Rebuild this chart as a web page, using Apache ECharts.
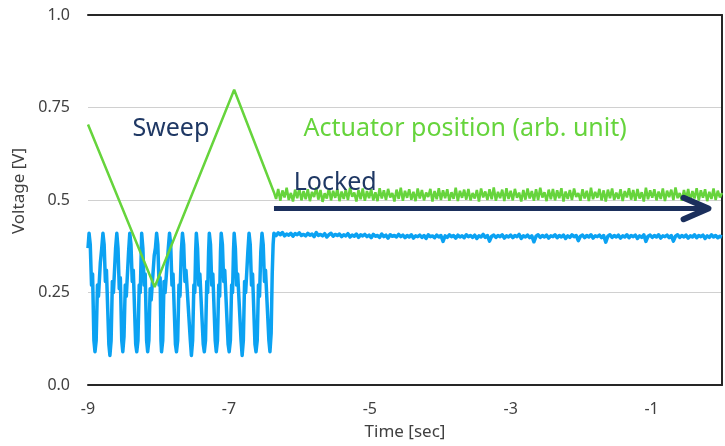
<!DOCTYPE html>
<html>
<head>
<meta charset="utf-8">
<script src="https://cdn.jsdelivr.net/npm/echarts@6/dist/echarts.min.js"></script>
<style>
  html, body { margin: 0; padding: 0; background: #fff; }
  #main { width: 725px; height: 446px; }
</style>
</head>
<body>
<div id="main"></div>
<script>
// x tick labels shown on the time axis
const xTickLabels = ["-9", "-7", "-5", "-3", "-1"];
// y tick labels, one per 0.25 V
const yTickLabels = ["0.0", "0.25", "0.5", "0.75", "1.0"];

// actuator sweep (triangle) vertices [time, V]
const greenSweep = [
  [-9.0, 0.704], [-8.054, 0.265], [-6.925, 0.798], [-6.361, 0.521]
];

// PD signal while sweeping [time, V]
const blueSweep = [
  [-9.000, 0.37], [-8.985, 0.41], [-8.968, 0.38], [-8.950, 0.27], [-8.935, 0.30], [-8.916, 0.12], [-8.901, 0.09],
  [-8.884, 0.12], [-8.866, 0.27], [-8.851, 0.24], [-8.825, 0.33], [-8.805, 0.37], [-8.788, 0.41],
  [-8.771, 0.38], [-8.753, 0.28], [-8.738, 0.31], [-8.704, 0.11], [-8.689, 0.08],
  [-8.672, 0.12], [-8.654, 0.28], [-8.639, 0.25], [-8.608, 0.37], [-8.591, 0.41],
  [-8.574, 0.37], [-8.556, 0.26], [-8.541, 0.29], [-8.521, 0.12], [-8.506, 0.09],
  [-8.489, 0.13], [-8.471, 0.27], [-8.456, 0.24], [-8.424, 0.36], [-8.407, 0.41],
  [-8.390, 0.38], [-8.372, 0.28], [-8.357, 0.31], [-8.323, 0.11], [-8.308, 0.09],
  [-8.291, 0.12], [-8.273, 0.27], [-8.258, 0.25], [-8.238, 0.41],
  [-8.221, 0.37], [-8.203, 0.27], [-8.188, 0.30], [-8.168, 0.12], [-8.153, 0.09],
  [-8.136, 0.12], [-8.118, 0.26], [-8.103, 0.23], [-8.060, 0.35], [-8.043, 0.37], [-8.026, 0.41],
  [-8.009, 0.38], [-7.991, 0.27], [-7.976, 0.29], [-7.964, 0.12], [-7.956, 0.09],
  [-7.939, 0.12], [-7.921, 0.28], [-7.906, 0.25], [-7.860, 0.37], [-7.843, 0.41],
  [-7.826, 0.38], [-7.808, 0.27], [-7.793, 0.30], [-7.759, 0.11], [-7.744, 0.09],
  [-7.727, 0.12], [-7.709, 0.27], [-7.694, 0.24], [-7.676, 0.36], [-7.659, 0.41],
  [-7.642, 0.38], [-7.624, 0.28], [-7.609, 0.31], [-7.547, 0.12], [-7.532, 0.08],
  [-7.515, 0.12], [-7.497, 0.27], [-7.484, 0.25], [-7.472, 0.36], [-7.462, 0.41],
  [-7.445, 0.37], [-7.427, 0.27], [-7.412, 0.30], [-7.364, 0.11], [-7.349, 0.09],
  [-7.332, 0.12], [-7.314, 0.28], [-7.301, 0.25], [-7.288, 0.36], [-7.278, 0.41],
  [-7.261, 0.38], [-7.243, 0.27], [-7.228, 0.30], [-7.194, 0.12], [-7.179, 0.09],
  [-7.162, 0.12], [-7.144, 0.27], [-7.131, 0.24], [-7.119, 0.36], [-7.109, 0.41],
  [-7.092, 0.38], [-7.074, 0.28], [-7.059, 0.31], [-7.011, 0.11], [-6.996, 0.09],
  [-6.979, 0.12], [-6.961, 0.27], [-6.948, 0.25], [-6.935, 0.36], [-6.925, 0.41],
  [-6.908, 0.37], [-6.890, 0.27], [-6.875, 0.30], [-6.827, 0.12], [-6.812, 0.08],
  [-6.795, 0.12], [-6.777, 0.28], [-6.762, 0.25], [-6.731, 0.36], [-6.714, 0.41],
  [-6.697, 0.38], [-6.679, 0.27], [-6.664, 0.30], [-6.630, 0.11], [-6.615, 0.09],
  [-6.598, 0.12], [-6.580, 0.27], [-6.565, 0.24], [-6.547, 0.36], [-6.530, 0.41],
  [-6.513, 0.38], [-6.495, 0.28], [-6.480, 0.31], [-6.432, 0.12], [-6.417, 0.09],
  [-6.400, 0.14], [-6.385, 0.30], [-6.372, 0.38], [-6.361, 0.41]
];

// locked part, sampled every lockStep seconds from lockStart
const lockStart = -6.36;
const lockStep = 0.03;
const greenLocked = [
  0.521,0.503,0.530,0.498,0.526,0.507,0.533,0.500,0.519,0.496,0.528,0.505,0.531,0.499,0.524,
  0.502,0.529,0.497,0.522,0.508,0.534,0.501,0.527,0.495,0.518,0.504,0.532,0.499,0.525,0.506,
  0.530,0.497,0.523,0.503,0.528,0.500,0.533,0.509,0.520,0.496,0.527,0.502,0.531,0.498,0.524,
  0.505,0.529,0.499,0.521,0.497,0.532,0.504,0.526,0.500,0.530,0.507,0.519,0.496,0.528,0.503,
  0.533,0.498,0.525,0.506,0.529,0.501,0.522,0.497,0.531,0.504,0.527,0.499,0.520,0.508,0.530,
  0.496,0.524,0.502,0.532,0.500,0.526,0.505,0.529,0.498,0.521,0.503,0.533,0.497,0.525,0.506,
  0.528,0.501,0.530,0.499,0.519,0.504,0.527,0.496,0.531,0.507,0.523,0.500,0.529,0.502,0.534,
  0.498,0.522,0.505,0.528,0.497,0.532,0.503,0.525,0.499,0.530,0.506,0.520,0.496,0.527,0.501,
  0.531,0.504,0.524,0.498,0.529,0.500,0.533,0.507,0.521,0.497,0.528,0.502,0.530,0.499,0.526,
  0.505,0.532,0.496,0.523,0.503,0.527,0.500,0.531,0.508,0.519,0.498,0.529,0.504,0.525,0.497,
  0.533,0.502,0.522,0.506,0.530,0.499,0.526,0.496,0.528,0.505,0.531,0.500,0.520,0.503,0.529,
  0.497,0.524,0.507,0.532,0.501,0.527,0.498,0.530,0.504,0.521,0.496,0.533,0.502,0.526,0.506,
  0.529,0.499,0.523,0.503,0.531,0.497,0.525,0.508,0.528,0.500,0.534,0.505,0.519,0.498,0.527,
  0.502,0.530,0.496,0.524,0.504,0.532,0.499,0.526,0.506,0.529,0.497,0.522,0.503,0.531,0.500,
  0.525,0.507,0.519
];
const blueLocked = [
  0.409,0.404,0.411,0.406,0.412,0.403,0.408,0.405,0.410,0.402,0.409,0.406,0.411,0.404,0.407,
  0.403,0.410,0.405,0.408,0.401,0.412,0.404,0.407,0.403,0.409,0.400,0.406,0.410,0.402,0.407,
  0.404,0.408,0.401,0.406,0.403,0.409,0.400,0.405,0.402,0.408,0.399,0.406,0.403,0.407,0.401,
  0.405,0.398,0.407,0.402,0.404,0.399,0.408,0.401,0.405,0.397,0.406,0.402,0.404,0.400,0.407,
  0.401,0.405,0.398,0.404,0.400,0.406,0.397,0.403,0.401,0.405,0.399,0.404,0.396,0.406,0.401,
  0.403,0.398,0.405,0.400,0.404,0.388,0.403,0.399,0.406,0.401,0.404,0.397,0.405,0.400,0.403,
  0.398,0.406,0.401,0.404,0.399,0.405,0.396,0.403,0.400,0.407,0.399,0.404,0.389,0.402,0.405,
  0.399,0.404,0.401,0.406,0.397,0.403,0.400,0.405,0.398,0.404,0.401,0.407,0.396,0.403,0.400,
  0.405,0.398,0.403,0.387,0.402,0.406,0.399,0.404,0.400,0.405,0.397,0.403,0.401,0.406,0.398,
  0.404,0.400,0.405,0.396,0.403,0.399,0.406,0.401,0.404,0.390,0.402,0.405,0.398,0.404,0.400,
  0.406,0.397,0.403,0.401,0.405,0.398,0.404,0.386,0.402,0.406,0.399,0.404,0.400,0.405,0.397,
  0.403,0.400,0.406,0.398,0.404,0.401,0.405,0.396,0.403,0.399,0.406,0.388,0.402,0.405,0.399,
  0.404,0.400,0.406,0.397,0.403,0.401,0.405,0.398,0.404,0.389,0.402,0.406,0.399,0.404,0.400,
  0.405,0.397,0.403,0.400,0.406,0.398,0.404,0.401,0.405,0.396,0.403,0.399,0.406,0.400,0.404,
  0.398,0.402,0.400
];

// "Locked" arrow, in data units
const arrowShaft = [[-6.36, 0.477], [-0.24, 0.477]];
const arrowHead = [[-0.545, 0.506], [-0.193, 0.477], [-0.545, 0.448]];

// annotation texts and their anchor (left, middle) in data units
const notes = [
  { text: "Sweep", at: [-8.37, 0.691], color: "#1f3864" },
  { text: "Actuator position (arb. unit)", at: [-5.94, 0.691], color: "#66d43c" },
  { text: "Locked", at: [-6.08, 0.545], color: "#1f3864" }
];

const fontFam = "'Noto Sans', sans-serif";
const lockedPairs = (arr) => arr.map((v, i) => [lockStart + i * lockStep, v]);

var myChart = echarts.init(document.getElementById("main"));
var option = {
  animation: false,
  grid: { left: 88, right: 0, top: 15, bottom: 59 },
  xAxis: [
    {
      type: "value",
      min: -9,
      max: 0,
      interval: 2,
      name: "Time [sec]",
      nameLocation: "middle",
      nameGap: 39,
      nameTextStyle: { fontFamily: fontFam, fontSize: 17, color: "#404040" },
      axisLine: { lineStyle: { color: "#262626", width: 2 } },
      axisTick: { show: false },
      splitLine: { show: false },
      axisLabel: {
        margin: 16,
        fontFamily: fontFam,
        fontSize: 16,
        color: "#404040",
        formatter: (v) => (xTickLabels.indexOf(String(v)) >= 0 ? String(v) : ""),
      },
    },
    {
      // top border of the plot
      type: "value",
      position: "top",
      min: -9,
      max: 0,
      axisLine: { show: true, onZero: false, lineStyle: { color: "#262626", width: 2 } },
      axisTick: { show: false },
      axisLabel: { show: false },
      splitLine: { show: false },
    },
  ],
  yAxis: {
    type: "value",
    min: 0,
    max: 1,
    interval: 0.25,
    name: "Voltage [V]",
    nameLocation: "middle",
    nameGap: 60,
    nameTextStyle: { fontFamily: fontFam, fontSize: 17, color: "#404040", padding: [0, 0, 0, 18] },
    axisLine: { show: true, lineStyle: { color: "#262626", width: 2 } },
    axisTick: { show: false },
    splitLine: { lineStyle: { color: "#d0d0d0", width: 1 } },
    axisLabel: {
      margin: 18,
      fontFamily: fontFam,
      fontSize: 16,
      color: "#404040",
      formatter: (v) => yTickLabels[Math.round(v / 0.25)],
    },
  },
  series: [
    {
      name: "PD",
      type: "line",
      data: blueSweep.concat(lockedPairs(blueLocked)),
      showSymbol: false,
      lineStyle: { color: "#0ba2f2", width: 3.5, join: "round" },
      z: 2,
    },
    {
      name: "Actuator",
      type: "line",
      data: greenSweep.concat(lockedPairs(greenLocked)),
      showSymbol: false,
      lineStyle: { color: "#66d43c", width: 2.5 },
      z: 3,
    },
    {
      type: "line",
      data: arrowShaft,
      showSymbol: false,
      lineStyle: { color: "#1b2f5c", width: 5 },
      z: 4,
    },
    {
      type: "line",
      data: arrowHead,
      showSymbol: false,
      lineStyle: { color: "#1b2f5c", width: 6, cap: "round", join: "round" },
      z: 4,
    },
  ],
};
myChart.setOption(option);

myChart.setOption({
  graphic: notes.map((n) => {
    const p = myChart.convertToPixel({ gridIndex: 0 }, n.at);
    return {
      type: "text",
      x: p[0],
      y: p[1],
      z: 10,
      style: {
        text: n.text,
        fill: n.color,
        font: "25px " + fontFam,
        verticalAlign: "middle",
        align: "left",
      },
    };
  }),
});
</script>
</body>
</html>
